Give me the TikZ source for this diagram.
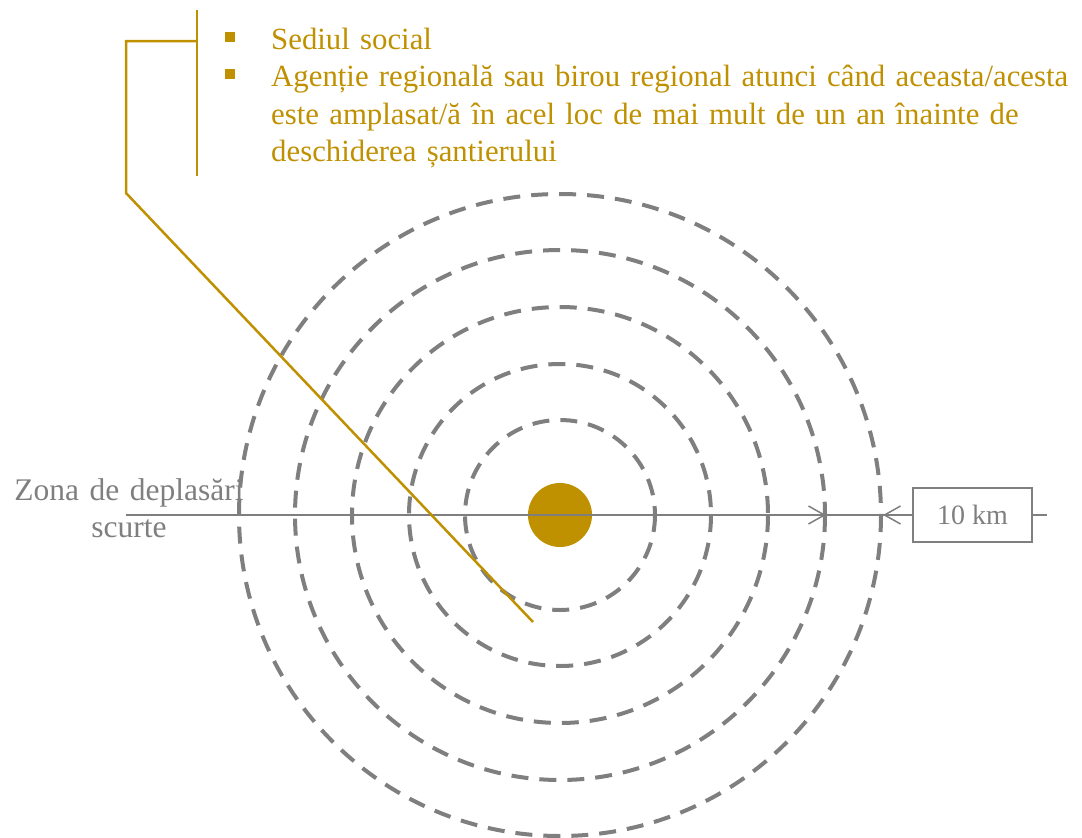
\documentclass[tikz,border=0pt]{standalone}
\usepackage{fontspec}
\setmainfont{Liberation Serif}
\usetikzlibrary{calc}
\usetikzlibrary{arrows.meta}
\definecolor{gold}{RGB}{191,144,0}
\definecolor{ash}{RGB}{127,127,127}

\begin{document}
\begin{tikzpicture} [x=1pt, y=-1pt,
  ring/.style={ash, line width=4, dash pattern=on 17 off 11},
  item/.style={gold, inner sep=0, anchor=base west, text width=830, align=left,
    font=\fontsize{30.8}{37.5}\selectfont},
  bullet/.style={fill=gold, inner sep=0, minimum size=10},
  lead/.style={gold, line width=2.5},
  axis/.style={ash, line width=1.5},
  tip/.style={-{Straight Barb[length=16,width=18,line width=1.5]}}]
\useasboundingbox (0,0) rectangle (1082,838);
\node[circle, fill=gold, inner sep=0, minimum size=64] (c) at (560,515) {};
\foreach \r in {95,151,208,265,321} {
 \draw[ring] (c) circle (\r);
}
% scale line and 10 km box
\coordinate (zl) at (126,515);
\coordinate (a0) at (693,515);
\coordinate (r4) at (826,515);
\coordinate (r5) at (883,515);
\coordinate (zr) at (1047,515);
\node[draw=ash, line width=1.5, ash, minimum width=119, minimum height=54, inner sep=0,
  font=\fontsize{28}{33}\selectfont] (km) at (972.5,515) {10 km};
\draw[axis] (zl) -- (km.west);
\draw[axis, line width=2, tip] (a0) -- (r4);
\draw[axis, tip] (km.west) -- (r5);
\draw[axis] (km.east) -- (zr);
\node[ash, text width=260, align=center, inner sep=0, anchor=base,
  font=\fontsize{31.5}{37}\selectfont] (zona) at (129,500) {Zona de deplasări\\scurte};
% callout
\coordinate (k0) at (533,622);
\coordinate (k1) at (126,193);
\coordinate (k2) at (126,41);
\coordinate (k3) at (197,41);
\coordinate (s0) at (197,10);
\coordinate (s1) at (197,176);
\draw[lead] (k0) -- (k1) -- (k2) -- (k3);
\draw[lead] (s0) -- (s1);
\node[bullet] (b1) at (230,37) {};
\node[bullet] (b2) at (230,74) {};
\node[item] (t1) at (271,49) {Sediul social};
\node[item] (t2) at (271,86.5) {Agenție regională sau birou regional atunci când aceasta/acesta\\
este amplasat/ă în acel loc de mai mult de un an înainte de\\
deschiderea șantierului};
\end{tikzpicture}
\end{document}
